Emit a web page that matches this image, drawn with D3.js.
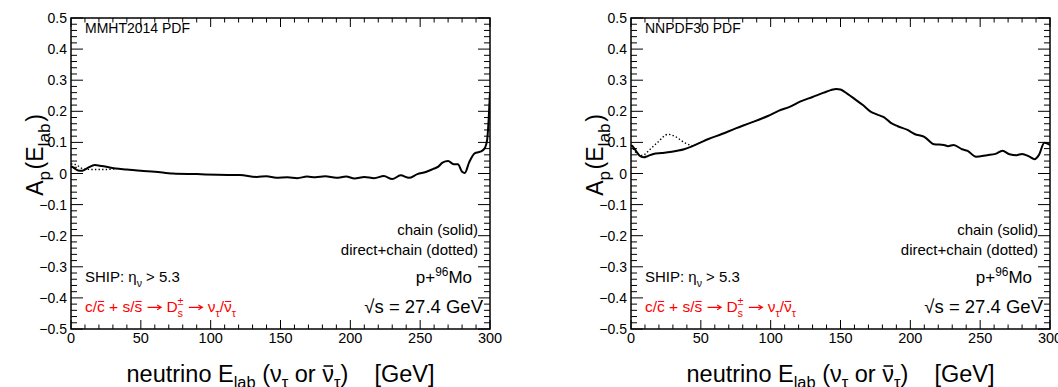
<!DOCTYPE html>
<html><head><meta charset="utf-8">
<script src="https://cdn.jsdelivr.net/npm/d3@7"></script>
<style>
body{margin:0;background:#fff}
svg{display:block}
text{font-family:"Liberation Sans",Arial,Helvetica,sans-serif;white-space:pre}
</style>
</head><body>
<svg id="chart" width="1058" height="387"></svg>
<script>
// Axis ticks
const xMajorTicks = [0, 50, 100, 150, 200, 250, 300];
const yMajorTicks = [-0.5, -0.4, -0.3, -0.2, -0.1, 0, 0.1, 0.2, 0.3, 0.4, 0.5];

// MMHT2014: chain contribution (solid)
const mmhtChainE = [0, 2, 5, 8, 12, 17, 22, 27, 32, 40, 50, 60, 73, 90, 105, 121, 133, 140, 147, 155, 162, 169, 175, 182, 190, 197, 203, 210, 217, 224, 230, 236, 242, 248, 254, 259, 263, 266, 270, 274, 277, 280, 282, 285, 289, 293, 296, 298, 299, 300];
const mmhtChainA = [0.024, 0.018, 0.010, 0.009, 0.018, 0.027, 0.024, 0.020, 0.016, 0.013, 0.009, 0.006, 0.000, -0.002, -0.004, -0.005, -0.011, -0.009, -0.014, -0.012, -0.015, -0.010, -0.012, -0.009, -0.014, -0.010, -0.016, -0.011, -0.015, -0.008, -0.018, -0.006, -0.014, -0.002, 0.005, 0.014, 0.022, 0.035, 0.040, 0.030, 0.030, 0.006, 0.002, 0.035, 0.065, 0.070, 0.080, 0.110, 0.170, 0.260];
// MMHT2014: direct + chain (dotted)
const mmhtDirectE = [0, 3, 6, 9, 15, 20, 26, 32];
const mmhtDirectA = [0.031, 0.029, 0.022, 0.014, 0.013, 0.013, 0.013, 0.016];

// NNPDF30: chain contribution (solid)
const nnpdfChainE = [0, 1, 3, 6, 9, 12, 16, 22, 28, 33, 38, 44, 50, 55, 65, 75, 85, 98, 106, 114, 121, 130, 138, 143, 147, 150, 155, 160, 166, 171.5, 176, 181, 186, 191, 198, 203, 210, 217, 224, 227, 231, 237, 241, 247, 255, 261, 266, 271, 276, 280, 285, 289, 292, 296, 300];
const nnpdfChainA = [0.090, 0.088, 0.076, 0.058, 0.052, 0.056, 0.063, 0.066, 0.069, 0.073, 0.078, 0.088, 0.100, 0.110, 0.127, 0.145, 0.162, 0.185, 0.202, 0.215, 0.231, 0.246, 0.260, 0.268, 0.272, 0.270, 0.256, 0.240, 0.220, 0.199, 0.190, 0.181, 0.163, 0.152, 0.140, 0.127, 0.118, 0.094, 0.092, 0.088, 0.092, 0.078, 0.073, 0.054, 0.059, 0.063, 0.073, 0.062, 0.059, 0.063, 0.055, 0.046, 0.059, 0.099, 0.092];
// NNPDF30: direct + chain (dotted)
const nnpdfDirectE = [0, 5, 8, 13, 19, 26.5, 32, 38, 44];
const nnpdfDirectA = [0.090, 0.062, 0.058, 0.075, 0.100, 0.126, 0.118, 0.100, 0.088];

const panels = [
  {dx: 0, pdf: "MMHT2014 PDF", chainE: mmhtChainE, chainA: mmhtChainA, directE: mmhtDirectE, directA: mmhtDirectA},
  {dx: 560, pdf: "NNPDF30 PDF", chainE: nnpdfChainE, chainA: nnpdfChainA, directE: nnpdfDirectE, directA: nnpdfDirectA}
];

const svg = d3.select("#chart");
const FRAME = {left: 71, right: 490, top: 18, bottom: 329};

// Text made of pieces with sub/superscripts, overbars and thin arrows,
// laid out by measuring each piece
function rich(parent, segs, o) {
  const g = parent.append("g");
  const fill = o.fill || "#000";
  let x = 0, prevX = 0;
  segs.forEach(sg => {
    const fs = o.size * (sg.s || 1);
    const by = (sg.dy || 0) * o.size;
    if (sg.arrow) {
      // a thin rightwards arrow one em wide
      const ay = by - 0.3 * fs, x0 = x + 0.06 * fs, x1 = x + 0.94 * fs;
      g.append("path")
        .attr("d", `M${x0},${ay}H${x1}M${x1 - 0.26 * fs},${ay - 0.15 * fs}L${x1},${ay}L${x1 - 0.26 * fs},${ay + 0.15 * fs}`)
        .attr("fill", "none").attr("stroke", fill).attr("stroke-width", 1.1);
      prevX = x; x += fs;
      return;
    }
    const t = g.append("text")
      .attr("xml:space", "preserve")
      .attr("font-size", fs)
      .attr("fill", fill)
      .attr("y", by)
      .text(sg.t);
    const tw = t.node().getComputedTextLength();
    const w = tw + (sg.gap || 0);
    const sx = sg.stack ? prevX : x;
    t.attr("x", sx);
    if (sg.bar) {
      g.append("line")
        .attr("x1", sx + 0.06 * fs).attr("x2", sx + tw - 0.04 * fs)
        .attr("y1", by - 0.68 * fs).attr("y2", by - 0.68 * fs)
        .attr("stroke", fill).attr("stroke-width", Math.max(1, 0.065 * fs));
    }
    if (sg.stack) x = Math.max(x, sx + w);
    else { prevX = sx; x = sx + w; }
  });
  const off = o.anchor === "end" ? -x : o.anchor === "middle" ? -x / 2 : 0;
  g.attr("transform", `translate(${o.x},${o.y}) rotate(${o.rot || 0}) translate(${off},0)`);
  return g;
}

const fmtY = d => d === 0 ? "0" : d.toFixed(1).replace("-", "\u2212");

panels.forEach((p, i) => {
  const L = FRAME.left + p.dx, R = FRAME.right + p.dx;
  const x = d3.scaleLinear().domain([0, 300]).range([L, R]);
  const y = d3.scaleLinear().domain([-0.5, 0.5]).range([FRAME.bottom, FRAME.top]);
  const g = svg.append("g");

  const clipId = "clip" + i;
  svg.append("clipPath").attr("id", clipId).append("rect")
    .attr("x", L).attr("y", FRAME.top).attr("width", R - L).attr("height", FRAME.bottom - FRAME.top);

  // Minor and major ticks, drawn inward on all four sides
  const xMinor = d3.range(0, 301, 10);
  const yMinor = d3.range(-50, 51, 2).map(v => v / 100);
  const tk = g.append("g").attr("stroke", "#000").attr("stroke-width", 1);
  xMinor.forEach(v => {
    const len = v % 50 === 0 ? 9 : 4.5;
    tk.append("line").attr("x1", x(v)).attr("x2", x(v)).attr("y1", FRAME.bottom).attr("y2", FRAME.bottom - len);
    tk.append("line").attr("x1", x(v)).attr("x2", x(v)).attr("y1", FRAME.top).attr("y2", FRAME.top + len);
  });
  yMinor.forEach(v => {
    const major = Math.abs(Math.round(v * 100)) % 10 === 0;
    const len = major ? 12 : 6;
    tk.append("line").attr("x1", L).attr("x2", L + len).attr("y1", y(v)).attr("y2", y(v));
    tk.append("line").attr("x1", R).attr("x2", R - len).attr("y1", y(v)).attr("y2", y(v));
  });

  // Frame
  g.append("rect").attr("x", L).attr("y", FRAME.top).attr("width", R - L).attr("height", FRAME.bottom - FRAME.top)
    .attr("fill", "none").attr("stroke", "#000").attr("stroke-width", 1.5);

  // Tick labels
  g.append("g").selectAll("text").data(xMajorTicks).join("text")
    .attr("x", d => x(d)).attr("y", 343).attr("text-anchor", "middle")
    .attr("font-size", 14.5).text(d => d);
  g.append("g").selectAll("text").data(yMajorTicks).join("text")
    .attr("x", L - 4).attr("y", d => y(d) + 5).attr("text-anchor", "end")
    .attr("font-size", 14).text(fmtY);

  // Curves
  const line = (E, A) => d3.line().curve(d3.curveMonotoneX)
    .x((d, k) => x(E[k])).y((d, k) => y(A[k]))(E);
  const cg = g.append("g").attr("clip-path", `url(#${clipId})`).attr("fill", "none").attr("stroke", "#000");
  cg.append("path").attr("d", line(p.directE, p.directA)).attr("stroke-width", 1.4).attr("stroke-dasharray", "1.4 2.2");
  cg.append("path").attr("d", line(p.chainE, p.chainA)).attr("stroke-width", 2).attr("stroke-linejoin", "round");

  // Annotations
  g.append("text").attr("x", 85 + p.dx).attr("y", 33).attr("font-size", 14).text(p.pdf);
  g.append("text").attr("x", 478 + p.dx).attr("y", 235).attr("font-size", 15).attr("text-anchor", "end").text("chain (solid)");
  g.append("text").attr("x", 478 + p.dx).attr("y", 255).attr("font-size", 15).attr("text-anchor", "end").text("direct+chain (dotted)");

  rich(g, [{t: "SHIP: \u03b7"}, {t: "\u03bd", s: 0.7, dy: 0.3}, {t: " > 5.3"}],
    {x: 85 + p.dx, y: 282, size: 15});
  rich(g, [{t: "p+"}, {t: "96", s: 0.7, dy: -0.4}, {t: "Mo"}],
    {x: 472 + p.dx, y: 283, size: 17, anchor: "end"});
  rich(g, [{t: "\u221As = 27.4 GeV"}],
    {x: 483 + p.dx, y: 313, size: 18.5, anchor: "end"});
  rich(g, [{t: "c/"}, {t: "c", bar: true}, {t: " + s/"}, {t: "s", bar: true}, {t: " "},
           {arrow: true}, {t: " D"},
           {t: "\u00b1", s: 0.7, dy: -0.45}, {t: "s", s: 0.7, dy: 0.3, stack: true},
           {t: " "}, {arrow: true}, {t: " \u03bd"}, {t: "\u03c4", s: 0.7, dy: 0.3},
           {t: "/"}, {t: "\u03bd", bar: true}, {t: "\u03c4", s: 0.7, dy: 0.3}],
    {x: 85 + p.dx, y: 312, size: 15.5, fill: "#ff0000"});

  // Axis titles
  rich(g, [{t: "neutrino E"}, {t: "lab", s: 0.7, dy: 0.27}, {t: " (\u03bd"}, {t: "\u03c4", s: 0.7, dy: 0.27},
           {t: " or "}, {t: "\u03bd", bar: true}, {t: "\u03c4", s: 0.7, dy: 0.27}, {t: ")    [GeV]"}],
    {x: (L + R) / 2, y: 382, size: 23.5, anchor: "middle"});
  rich(g, [{t: "A"}, {t: "p", s: 0.75, dy: 0.3, gap: 1.5}, {t: "(E"}, {t: "lab", s: 0.75, dy: 0.3, gap: 1.5}, {t: ")"}],
    {x: 43 + p.dx, y: 155, size: 23, anchor: "middle", rot: -90});
});
</script>
</body></html>
